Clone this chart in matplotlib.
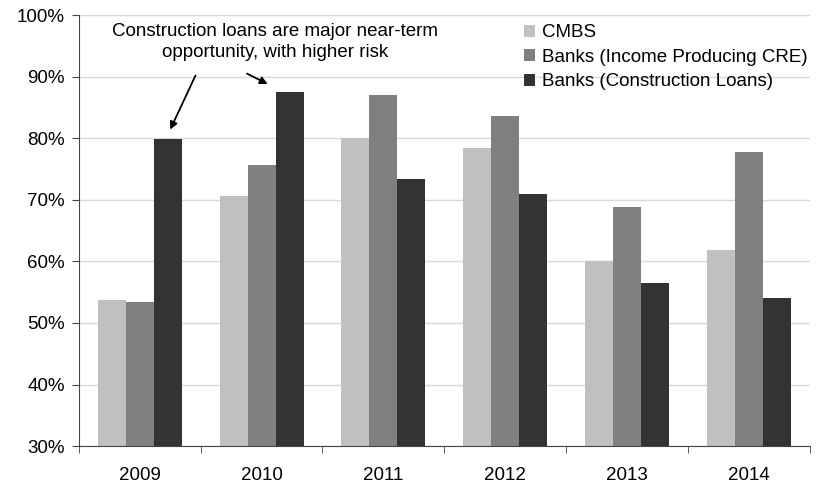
import matplotlib
matplotlib.use("Agg")
import matplotlib.pyplot as plt
import numpy as np

plt.rcParams['font.family'] = ['Liberation Sans', 'DejaVu Sans']

years = ['2009', '2010', '2011', '2012', '2013', '2014']
cmbs = [53.8, 70.6, 80.1, 78.4, 60.1, 61.8]
banks_income = [53.4, 75.6, 87.1, 83.6, 68.9, 77.7]
banks_construction = [79.9, 87.5, 73.4, 71.0, 56.5, 54.0]
labels = ['CMBS', 'Banks (Income Producing CRE)', 'Banks (Construction Loans)']
colors = ['#c0c0c0', '#808080', '#333333']

fs = 13.5

fig = plt.figure(figsize=(8.22, 4.87), dpi=100)
ax = fig.add_axes([0.096, 0.084, 0.889, 0.885])

x = np.arange(len(years))
w = 0.23
for k, (vals, lab, c) in enumerate(zip([cmbs, banks_income, banks_construction], labels, colors)):
    ax.bar(x + (k - 1) * w, vals, w, color=c, label=lab, zorder=2)

ax.set_ylim(30, 100)
ax.set_xlim(-0.5, len(years) - 0.5)
ax.set_yticks(range(30, 101, 10))
ax.set_yticklabels([f'{v}%' for v in range(30, 101, 10)], fontsize=fs)
ax.yaxis.grid(True, color='#d9d9d9', linewidth=1, zorder=0)
ax.set_axisbelow(True)

# category labels centred, tick marks on the group boundaries
ax.set_xticks(x)
ax.set_xticklabels(years, fontsize=fs)
ax.tick_params(axis='x', which='major', length=0, pad=15)
ax.set_xticks(np.arange(-0.5, len(years)), minor=True)
ax.tick_params(axis='x', which='minor', length=5, direction='out', color='#444444')
ax.tick_params(axis='y', length=5, direction='out', color='#444444', pad=5)

for s in ['top', 'right']:
    ax.spines[s].set_visible(False)
for s in ['left', 'bottom']:
    ax.spines[s].set_color('#444444')

ax.legend(loc='upper right', bbox_to_anchor=(1.013, 1.005), frameon=False, fontsize=fs,
          handlelength=0.6, handleheight=0.6, handletextpad=0.4, labelspacing=0.4,
          borderaxespad=0.2)

ax.text(1.107, 95.6, 'Construction loans are major near-term\nopportunity, with higher risk',
        ha='center', va='center', fontsize=fs, linespacing=1.3)
ax.annotate('', xy=(0.24, 81.0), xytext=(0.467, 90.6),
            arrowprops=dict(arrowstyle='-|>', color='black', lw=1.3, mutation_scale=11))
ax.annotate('', xy=(1.07, 88.6), xytext=(0.86, 90.7),
            arrowprops=dict(arrowstyle='-|>', color='black', lw=1.3, mutation_scale=11))

fig.savefig('out.png', dpi=100)
